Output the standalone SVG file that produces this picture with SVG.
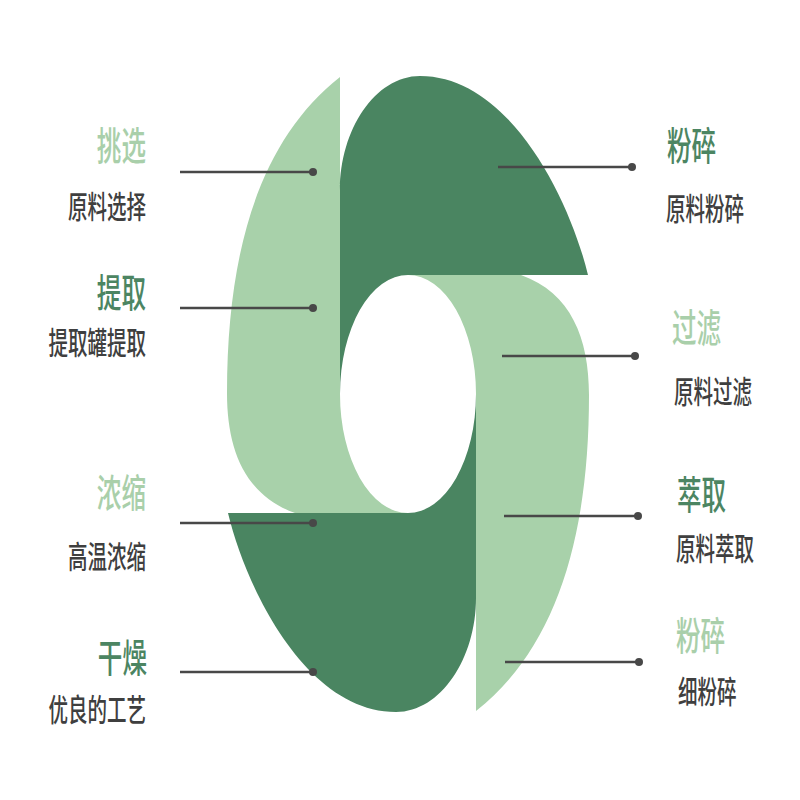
<svg xmlns="http://www.w3.org/2000/svg" width="800" height="800" viewBox="0 0 800 800">
<style>
.dk{fill:#4a8561}
.lt{fill:#a8d1aa}
text{font-family:"Noto Sans CJK SC","Noto Sans",sans-serif;font-weight:500}
.t{font-size:39px}
.tdk{fill:#4c8562}
.tlt{fill:#a9cfaa}
.s{font-size:31px;fill:#3f3f3f}
.ln{stroke:#484848;stroke-width:2.6;fill:none}
.dot{fill:#484848}
</style>
<defs>
<path id="lightPiece" d="M 340,77 L 340,394 A 68 119 0 0 0 408,513 L 295,513 C 245,495 227,450 227,393 C 227,250 260,140 340,77 Z"/>
<path id="darkPiece" d="M 340,394 A 68 119 0 0 1 408,275 L 588,275 C 570,200 510,76 420,76 C 375,76 340,130 340,190 Z"/>
</defs>
<rect width="800" height="800" fill="#ffffff"/>
<g id="shape">
<use href="#lightPiece" class="lt"/>
<use href="#darkPiece" class="dk"/>
<use href="#lightPiece" class="lt" transform="rotate(180 408 394)"/>
<use href="#darkPiece" class="dk" transform="rotate(180 408 394)"/>
</g>
<g id="connectors">
<line class="ln" x1="180" y1="172" x2="313" y2="172"/><circle class="dot" cx="313" cy="172" r="4"/>
<line class="ln" x1="180" y1="308" x2="313" y2="308"/><circle class="dot" cx="313" cy="308" r="4"/>
<line class="ln" x1="180" y1="523" x2="313" y2="523"/><circle class="dot" cx="313" cy="523" r="4"/>
<line class="ln" x1="180" y1="672" x2="313" y2="672"/><circle class="dot" cx="313" cy="672" r="4"/>
<line class="ln" x1="498" y1="167" x2="632" y2="167"/><circle class="dot" cx="632" cy="167" r="4"/>
<line class="ln" x1="502" y1="356" x2="635" y2="356"/><circle class="dot" cx="635" cy="356" r="4"/>
<line class="ln" x1="504" y1="516" x2="638" y2="516"/><circle class="dot" cx="638" cy="516" r="4"/>
<line class="ln" x1="505" y1="662" x2="639" y2="662"/><circle class="dot" cx="639" cy="662" r="4"/>
</g>
<g id="label-tiaoxuan" text-anchor="end">
<text class="t tlt" transform="translate(146 160) scale(0.63 1)">挑选</text>
<text class="s" transform="translate(146 218) scale(0.63 1)">原料选择</text>
</g>
<g id="label-tiqu" text-anchor="end">
<text class="t tdk" transform="translate(146 307) scale(0.63 1)">提取</text>
<text class="s" transform="translate(146 354) scale(0.63 1)">提取罐提取</text>
</g>
<g id="label-nongsuo" text-anchor="end">
<text class="t tlt" transform="translate(146 507) scale(0.63 1)">浓缩</text>
<text class="s" transform="translate(146 568) scale(0.63 1)">高温浓缩</text>
</g>
<g id="label-ganzao" text-anchor="end">
<text class="t tdk" transform="translate(147 672) scale(0.63 1)">干燥</text>
<text class="s" transform="translate(146 721) scale(0.63 1)">优良的工艺</text>
</g>
<g id="label-fensui">
<text class="t tdk" transform="translate(667 160) scale(0.63 1)">粉碎</text>
<text class="s" transform="translate(666 220) scale(0.63 1)">原料粉碎</text>
</g>
<g id="label-guolv">
<text class="t tlt" transform="translate(672 342) scale(0.63 1)">过滤</text>
<text class="s" transform="translate(674 403) scale(0.63 1)">原料过滤</text>
</g>
<g id="label-cuiqu">
<text class="t tdk" transform="translate(677 509) scale(0.63 1)">萃取</text>
<text class="s" transform="translate(676 560) scale(0.63 1)">原料萃取</text>
</g>
<g id="label-xifensui">
<text class="t tlt" transform="translate(676 650) scale(0.63 1)">粉碎</text>
<text class="s" transform="translate(678 703) scale(0.63 1)">细粉碎</text>
</g>
</svg>
